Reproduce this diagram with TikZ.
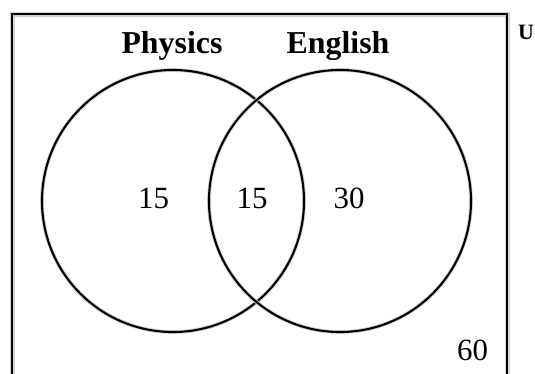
\documentclass[tikz,border=0pt]{standalone}
\usepackage{fontspec}
\setmainfont{Liberation Serif}

\begin{document}
\begin{tikzpicture}[x=1bp,y=-1bp,
  frame/.style={line width=2.6bp,preaction={draw=gray!35,line width=5bp}},
  set/.style={draw,circle,line width=2.1bp,minimum size=262bp,inner sep=0pt,
    preaction={draw=gray!35,line width=3.8bp}},
  count/.style={anchor=base,font=\fontsize{31}{31}\selectfont},
  setname/.style={anchor=base,font=\bfseries\fontsize{32}{32}\selectfont}]
  \useasboundingbox (0,0) rectangle (535,373);
  % universal set
  \draw[frame] (12,380) |- (507,14) -- (507,380);
  \node[anchor=base west,font=\bfseries\fontsize{22}{22}\selectfont,inner sep=0pt]
    (univ) at (518,39) {U};
  % the two sets
  \node[set] (phys) at (173,201) {};
  \node[set] (engl) at (340,201) {};
  \node[setname] (physname) at (172,53) {Physics};
  \node[setname] (englname) at (338,53) {English};
  % counts
  \node[count] (physonly) at (153.5,208) {15};
  \node[count] (both) at (252,208) {15};
  \node[count] (englonly) at (349,208) {30};
  \node[count] (neither) at (472.5,360) {60};
\end{tikzpicture}
\end{document}
